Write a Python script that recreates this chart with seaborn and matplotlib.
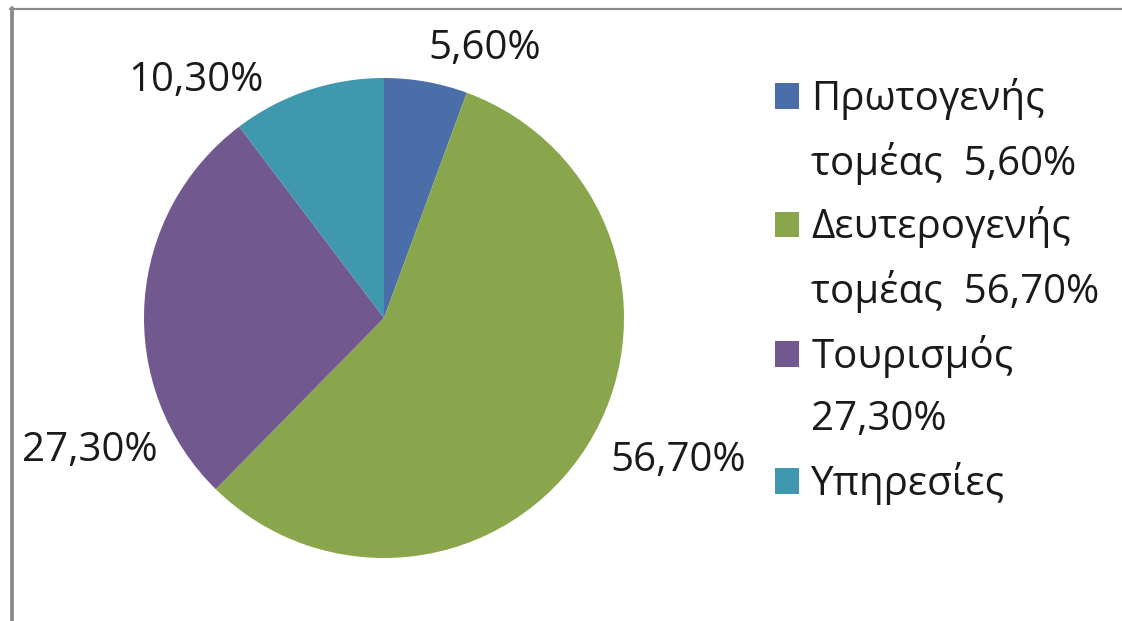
import matplotlib
matplotlib.use("Agg")
import matplotlib.pyplot as plt
from matplotlib.patches import Patch
from matplotlib.lines import Line2D
import seaborn as sns

# data
sectors = ["Πρωτογενής τομέας", "Δευτερογενής τομέας", "Τουρισμός", "Υπηρεσίες"]
shares = [5.6, 56.7, 27.3, 10.3]
pct_labels = ["5,60%", "56,70%", "27,30%", "10,30%"]
legend_lines = [["Πρωτογενής", "τομέας  5,60%"],
                ["Δευτερογενής", "τομέας  56,70%"],
                ["Τουρισμός", "27,30%"],
                ["Υπηρεσίες"]]
colors = ["#4A6FA8", "#8AA64C", "#71588F", "#4098AF"]

# where excel put the data labels (pie radius units)
label_pos = [(0.42, 1.12), (1.225, -0.596), (-1.225, -0.554), (-0.783, 0.988)]

sns.set_theme(style="white")
plt.rcParams["font.family"] = ["Open Sans", "DejaVu Sans"]

fig = plt.figure(figsize=(11.22, 6.21), dpi=100)
W, H = 1122, 621
cx, cy, r = 384, 318, 240
ax = fig.add_axes([(cx - r) / W, (H - cy - r) / H, 2 * r / W, 2 * r / H])

ax.pie(shares, colors=colors, startangle=90, counterclock=False,
       wedgeprops=dict(linewidth=0))
ax.set_xlim(-1, 1)
ax.set_ylim(-1, 1)
ax.set_aspect("equal")
ax.axis("off")

for txt, (x, y) in zip(pct_labels, label_pos):
    ax.text(x, y, txt, ha="center", va="center", fontsize=29,
            color="#1a1a1a", clip_on=False)

# legend: one row per text line, swatch only on the first line of each item
handles, labels = [], []
for col, lines in zip(colors, legend_lines):
    for i, ln in enumerate(lines):
        if i == 0:
            handles.append(Patch(facecolor=col, edgecolor="none"))
        else:
            handles.append(Patch(facecolor="none", edgecolor="none"))
        labels.append(ln)

leg = fig.legend(handles, labels, loc="upper left",
                 bbox_to_anchor=(775 / W, 1 - 78 / H),
                 frameon=False, fontsize=29, handlelength=0.6,
                 handleheight=0.6, handletextpad=0.3, labelspacing=0.54,
                 borderpad=0, borderaxespad=0)
for t in leg.get_texts():
    t.set_color("#1a1a1a")

# chart frame remnants (left and top edges)
fig.add_artist(Line2D([11.5 / W, 11.5 / W], [0, 1 - 8 / H],
                      color="#8c8c8c", linewidth=2.8))
fig.add_artist(Line2D([10 / W, 1], [1 - 8.5 / H, 1 - 8.5 / H],
                      color="#8c8c8c", linewidth=1.6))

fig.savefig("out.png", dpi=100)
